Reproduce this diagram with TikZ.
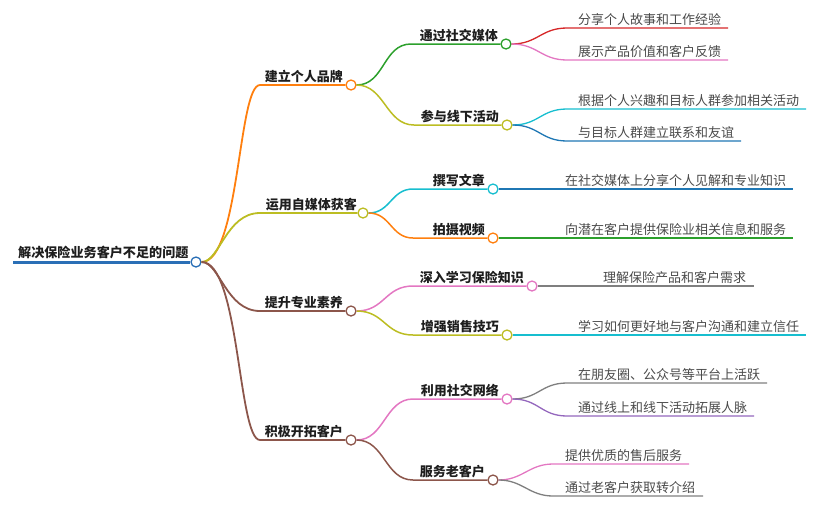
\documentclass[tikz,border=0pt]{standalone}
\usepackage{fontspec}
\setmainfont{Noto Sans CJK SC}
\definecolor{cBlue}{HTML}{1F77B4}
\definecolor{cRoot}{HTML}{2A6FB6}
\definecolor{cOrange}{HTML}{FF7F0E}
\definecolor{cGreen}{HTML}{2CA02C}
\definecolor{cRed}{HTML}{D62728}
\definecolor{cPurple}{HTML}{9467BD}
\definecolor{cBrown}{HTML}{8C564B}
\definecolor{cPink}{HTML}{E377C2}
\definecolor{cGray}{HTML}{7F7F7F}
\definecolor{cOlive}{HTML}{BCBD22}
\definecolor{cCyan}{HTML}{17BECF}
\definecolor{leaftext}{HTML}{4A4A4A}
\definecolor{headtext}{HTML}{1E1E1E}
\tikzset{
  dot/.style={circle, draw, fill=white, minimum size=10pt, inner sep=0pt, line width=1.3pt},
  headlabel/.style={font=\fontsize{13}{15}\selectfont\bfseries, text=headtext, inner sep=0pt, anchor=base east},
  rootlabel/.style={font=\fontsize{13.1}{15}\selectfont\bfseries, text=headtext, inner sep=0pt, anchor=base west},
  leaflabel/.style={font=\fontsize{13}{15}\selectfont, text=leaftext, inner sep=0pt, anchor=base west},
  rootline/.style={line width=3pt, cRoot},
  l1line/.style={line width=1.8pt},
  l2line/.style={line width=1.5pt},
  leafline/.style={line width=1.3pt},
}
\begin{document}
\begin{tikzpicture}[x=1pt, y=-1pt]
\useasboundingbox (0,0) rectangle (820,507);

% root
\coordinate (s0) at (13,262);
\draw[rootline] (s0) -- (190,262);
\node[dot, draw=cRoot] (c0) at (196,262) {};
\node[rootlabel] (t0) at (18,257) {解决保险业务客户不足的问题};

% level 1
\coordinate (sA) at (260,85);
\coordinate (sB) at (260,213);
\coordinate (sC) at (260,311);
\coordinate (sD) at (260,440);
\node[dot, draw=cOrange] (cA) at (351,85) {};
\node[dot, draw=cOlive] (cB) at (363,213) {};
\node[dot, draw=cBrown] (cC) at (351,311) {};
\node[dot, draw=cBrown] (cD) at (351,440) {};
\draw[l1line, cOrange] (c0.east) .. controls +(38,0) and +(-22,0) .. (sA) -- (cA.west);
\draw[l1line, cOlive] (c0.east) .. controls +(18,0) and +(-34,0) .. (sB) -- (cB.west);
\draw[l1line, cBrown] (c0.east) .. controls +(18,0) and +(-34,0) .. (sC) -- (cC.west);
\draw[l1line, cBrown] (c0.east) .. controls +(38,0) and +(-22,0) .. (sD) -- (cD.west);
\node[headlabel] (tA) at (343,81) {建立个人品牌};
\node[headlabel] (tB) at (357,209) {运用自媒体获客};
\node[headlabel] (tC) at (343,307) {提升专业素养};
\node[headlabel] (tD) at (343,436) {积极开拓客户};

% level 2
\coordinate (sA1) at (411,44);
\coordinate (sA2) at (414,125);
\coordinate (sB1) at (413,189);
\coordinate (sB2) at (413,238);
\coordinate (sC1) at (413,286);
\coordinate (sC2) at (413,335);
\coordinate (sD1) at (413,399);
\coordinate (sD2) at (413,480);
\node[dot, draw=cGreen] (cA1) at (506,44) {};
\node[dot, draw=cOlive] (cA2) at (507,125) {};
\node[dot, draw=cCyan] (cB1) at (493,189) {};
\node[dot, draw=cOrange] (cB2) at (493,238) {};
\node[dot, draw=cPink] (cC1) at (532,286) {};
\node[dot, draw=cOlive] (cC2) at (507,335) {};
\node[dot, draw=cPink] (cD1) at (507,399) {};
\node[dot, draw=cBrown] (cD2) at (493,480) {};
\draw[l2line, cGreen] (cA.east) .. controls +(28,0) and +(-28,0) .. (sA1) -- (cA1.west);
\draw[l2line, cOlive] (cA.east) .. controls +(28,0) and +(-28,0) .. (sA2) -- (cA2.west);
\draw[l2line, cCyan] (cB.east) .. controls +(22,0) and +(-22,0) .. (sB1) -- (cB1.west);
\draw[l2line, cOrange] (cB.east) .. controls +(22,0) and +(-22,0) .. (sB2) -- (cB2.west);
\draw[l2line, cPink] (cC.east) .. controls +(28,0) and +(-28,0) .. (sC1) -- (cC1.west);
\draw[l2line, cOlive] (cC.east) .. controls +(28,0) and +(-28,0) .. (sC2) -- (cC2.west);
\draw[l2line, cPink] (cD.east) .. controls +(28,0) and +(-28,0) .. (sD1) -- (cD1.west);
\draw[l2line, cBrown] (cD.east) .. controls +(28,0) and +(-28,0) .. (sD2) -- (cD2.west);
\node[headlabel] (tA1) at (498,40) {通过社交媒体};
\node[headlabel] (tA2) at (499,121) {参与线下活动};
\node[headlabel] (tB1) at (485,185) {撰写文章};
\node[headlabel] (tB2) at (485,234) {拍摄视频};
\node[headlabel] (tC1) at (524,282) {深入学习保险知识};
\node[headlabel] (tC2) at (499,331) {增强销售技巧};
\node[headlabel] (tD1) at (499,395) {利用社交网络};
\node[headlabel] (tD2) at (485,476) {服务老客户};

% leaves
\coordinate (sA1a) at (567,28);   \coordinate (eA1a) at (728,28);
\coordinate (sA1b) at (567,60);   \coordinate (eA1b) at (728,60);
\coordinate (sA2a) at (567,109);  \coordinate (eA2a) at (806,109);
\coordinate (sA2b) at (567,141);  \coordinate (eA2b) at (741,141);
\coordinate (eB1a) at (793,189);
\coordinate (eB2a) at (793,238);
\coordinate (eC1a) at (754,286);
\coordinate (eC2a) at (806,335);
\coordinate (sD1a) at (567,383);  \coordinate (eD1a) at (767,383);
\coordinate (sD1b) at (567,416);  \coordinate (eD1b) at (754,416);
\coordinate (sD2a) at (553,464);  \coordinate (eD2a) at (689,464);
\coordinate (sD2b) at (553,496);  \coordinate (eD2b) at (703,496);

\draw[leafline, cRed] (cA1.east) .. controls +(26,0) and +(-26,0) .. (sA1a) -- (eA1a);
\draw[leafline, cPink] (cA1.east) .. controls +(26,0) and +(-26,0) .. (sA1b) -- (eA1b);
\draw[leafline, cCyan] (cA2.east) .. controls +(26,0) and +(-26,0) .. (sA2a) -- (eA2a);
\draw[leafline, cBlue] (cA2.east) .. controls +(26,0) and +(-26,0) .. (sA2b) -- (eA2b);
\draw[leafline, cBlue] (cB1.east) -- (eB1a);
\draw[leafline, cGreen] (cB2.east) -- (eB2a);
\draw[leafline, cGray] (cC1.east) -- (eC1a);
\draw[leafline, cCyan] (cC2.east) -- (eC2a);
\draw[leafline, cGray] (cD1.east) .. controls +(26,0) and +(-26,0) .. (sD1a) -- (eD1a);
\draw[leafline, cPurple] (cD1.east) .. controls +(26,0) and +(-26,0) .. (sD1b) -- (eD1b);
\draw[leafline, cPink] (cD2.east) .. controls +(24,0) and +(-24,0) .. (sD2a) -- (eD2a);
\draw[leafline, cGray] (cD2.east) .. controls +(24,0) and +(-24,0) .. (sD2b) -- (eD2b);

\node[leaflabel] (tA1a) at (578,24) {分享个人故事和工作经验};
\node[leaflabel] (tA1b) at (578,56) {展示产品价值和客户反馈};
\node[leaflabel] (tA2a) at (578,105) {根据个人兴趣和目标人群参加相关活动};
\node[leaflabel] (tA2b) at (578,137) {与目标人群建立联系和友谊};
\node[leaflabel] (tB1a) at (565,185) {在社交媒体上分享个人见解和专业知识};
\node[leaflabel] (tB2a) at (565,234) {向潜在客户提供保险业相关信息和服务};
\node[leaflabel] (tC1a) at (603,282) {理解保险产品和客户需求};
\node[leaflabel] (tC2a) at (578,331) {学习如何更好地与客户沟通和建立信任};
\node[leaflabel] (tD1a) at (578,379) {在朋友圈、公众号等平台上活跃};
\node[leaflabel] (tD1b) at (578,412) {通过线上和线下活动拓展人脉};
\node[leaflabel] (tD2a) at (565,460) {提供优质的售后服务};
\node[leaflabel] (tD2b) at (565,492) {通过老客户获取转介绍};
\end{tikzpicture}
\end{document}
